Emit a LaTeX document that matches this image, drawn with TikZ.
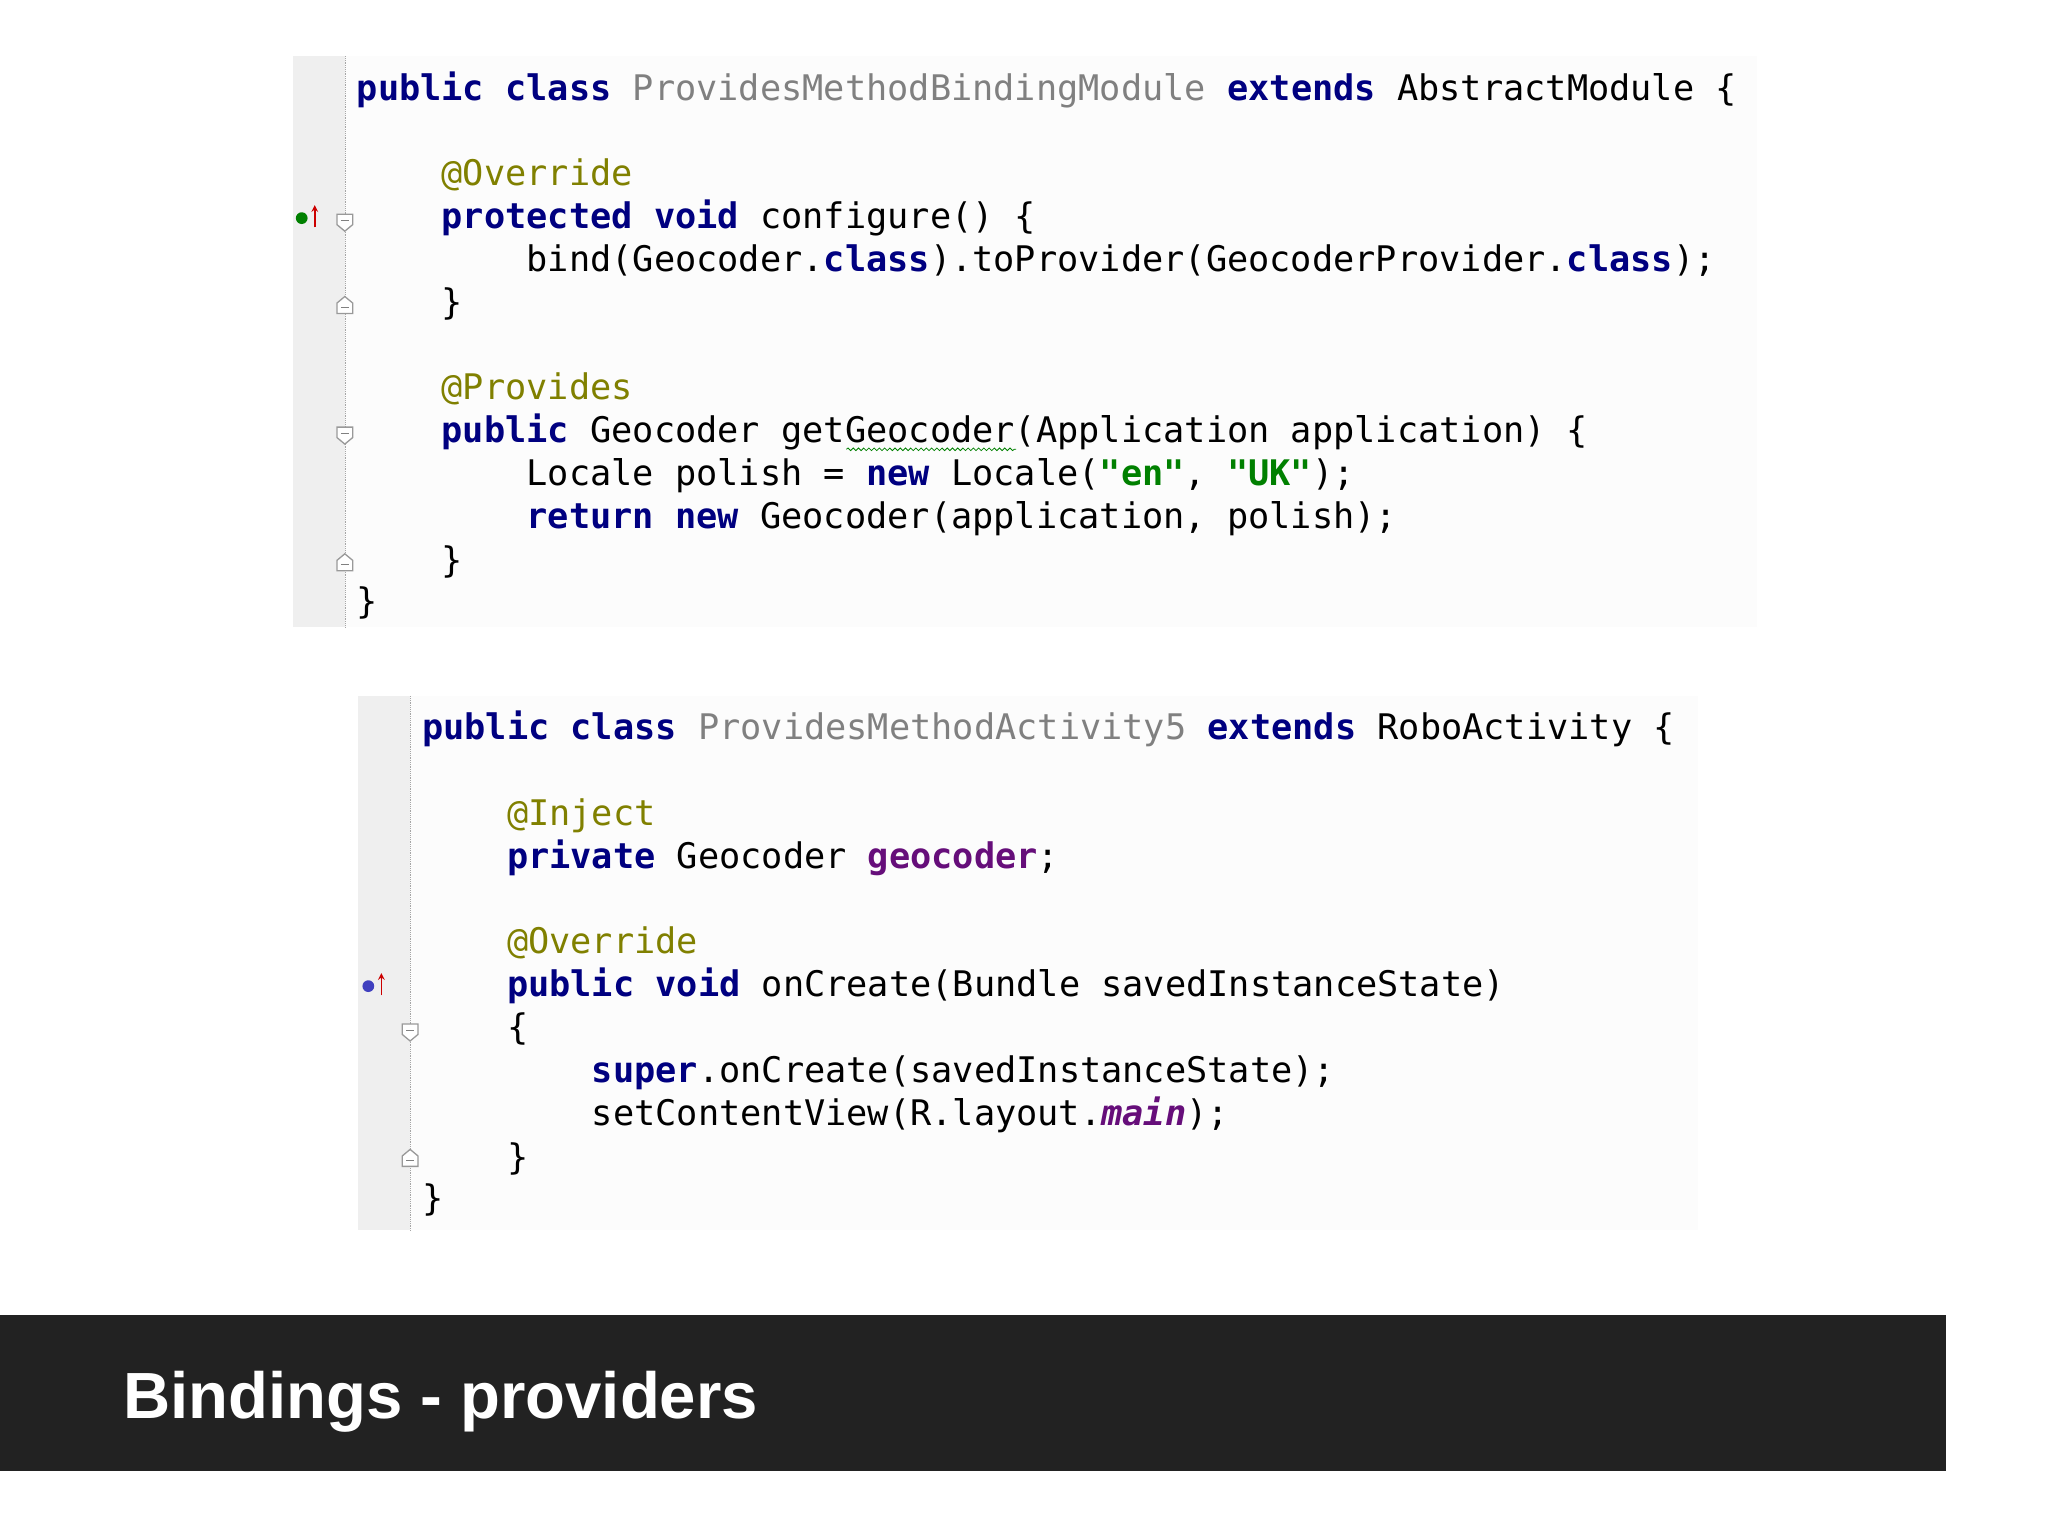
\documentclass[tikz,border=0pt]{standalone}
\usepackage{fontspec}
\setmonofont{DejaVu Sans Mono}
\setsansfont{Liberation Sans}
\usetikzlibrary{decorations.pathmorphing}
\definecolor{kwc}{HTML}{000080}
\definecolor{clc}{HTML}{808080}
\definecolor{anc}{HTML}{808000}
\definecolor{stc}{HTML}{008000}
\definecolor{fdc}{HTML}{660E7A}
\definecolor{gut}{HTML}{EFEFEF}
\definecolor{barc}{HTML}{222222}
\newcommand{\kw}[1]{\textcolor{kwc}{\bfseries #1}}
\newcommand{\cl}[1]{\textcolor{clc}{#1}}
\newcommand{\an}[1]{\textcolor{anc}{#1}}
\newcommand{\st}[1]{\textcolor{stc}{\bfseries #1}}
\newcommand{\fd}[1]{\textcolor{fdc}{\bfseries #1}}
\newcommand{\fdit}[1]{\textcolor{fdc}{\bfseries\itshape #1}}
\tikzset{code/.style={anchor=base west,inner sep=0pt,font=\ttfamily\fontsize{27}{27}\selectfont,text=black},
  fold/.style={draw=gray!80,fill=white,line width=1pt},
  gutterbox/.style={fill=gut,draw=none}}
\begin{document}
\begin{tikzpicture}[x=1pt,y=-1pt]
\useasboundingbox (0,0) rectangle (1568,1176);
\fill[white] (0,0) rectangle (1568,1176);
% block 1
\fill[gut] (224,43) rectangle (264,480);
\fill[black!1] (264,43) rectangle (1345,480);
\draw[gray!70,densely dotted] (264,43) -- (264,480);
\node[code] (l1) at (273,77) {\kw{public class} \cl{ProvidesMethodBindingModule} \kw{extends} AbstractModule \{};
\node[code] (l2) at (338,142) {\an{@Override}};
\node[code] (l3) at (338,175) {\kw{protected void} configure() \{};
\node[code] (l4) at (403,208) {bind(Geocoder.\kw{class}).toProvider(GeocoderProvider.\kw{class});};
\node[code] (l5) at (338,241) {\}};
\node[code] (l6) at (338,306) {\an{@Provides}};
\node[code] (l7) at (338,339) {\kw{public} Geocoder getGeocoder(Application application) \{};
\node[code] (l8) at (403,372) {Locale polish = \kw{new} Locale(\st{"en"}, \st{"UK"});};
\node[code] (l9) at (403,405) {\kw{return new} Geocoder(application, polish);};
\node[code] (l10) at (338,438) {\}};
\node[code] (l11) at (273,470) {\}};
\draw[stc,decorate,decoration={snake,amplitude=1pt,segment length=4pt},line width=0.6pt] (648,344) -- (778,344);
% block 2
\fill[gut] (274,533) rectangle (314,942);
\fill[black!1] (314,533) rectangle (1300,942);
\draw[gray!70,densely dotted] (314,533) -- (314,942);
\node[code] (m1) at (323,566) {\kw{public class} \cl{ProvidesMethodActivity5} \kw{extends} RoboActivity \{};
\node[code] (m2) at (388,632) {\an{@Inject}};
\node[code] (m3) at (388,665) {\kw{private} Geocoder \fd{geocoder};};
\node[code] (m4) at (388,730) {\an{@Override}};
\node[code] (m5) at (388,763) {\kw{public void} onCreate(Bundle savedInstanceState)};
\node[code] (m6) at (388,796) {\{};
\node[code] (m7) at (453,829) {\kw{super}.onCreate(savedInstanceState);};
\node[code] (m8) at (453,862) {setContentView(R.layout.\fdit{main});};
\node[code] (m9) at (388,895) {\}};
\node[code] (m10) at (323,927) {\}};
% gutter icons
\foreach \x/\y in {264/170,314/790,264/333}{\draw[fold] (\x-6,\y-6) -- (\x+6,\y-6) -- (\x+6,\y+2) -- (\x,\y+7) -- (\x-6,\y+2) -- cycle; \draw[gray] (\x-3,\y-1) -- (\x+3,\y-1);}
\foreach \x/\y in {264/234,264/431,314/887}{\draw[fold] (\x-6,\y+6) -- (\x+6,\y+6) -- (\x+6,\y-2) -- (\x,\y-7) -- (\x-6,\y-2) -- cycle; \draw[gray] (\x-3,\y+1) -- (\x+3,\y+1);}
\fill[green!50!black] (231,167) circle (4.5);
\draw[red!80!black,line width=1.3pt,->,>=stealth] (241,174) -- (241,157);
\fill[blue!50!gray] (282,755) circle (4.5);
\draw[red!80!black,line width=1.3pt,->,>=stealth] (292,762) -- (292,745);
% bar
\fill[barc] (0,1007) rectangle (1490,1126);
\node[anchor=base west,inner sep=0pt,text=white,font=\sffamily\bfseries\fontsize{50}{50}\selectfont] (title) at (94,1086) {Bindings - providers};
\end{tikzpicture}
\end{document}
